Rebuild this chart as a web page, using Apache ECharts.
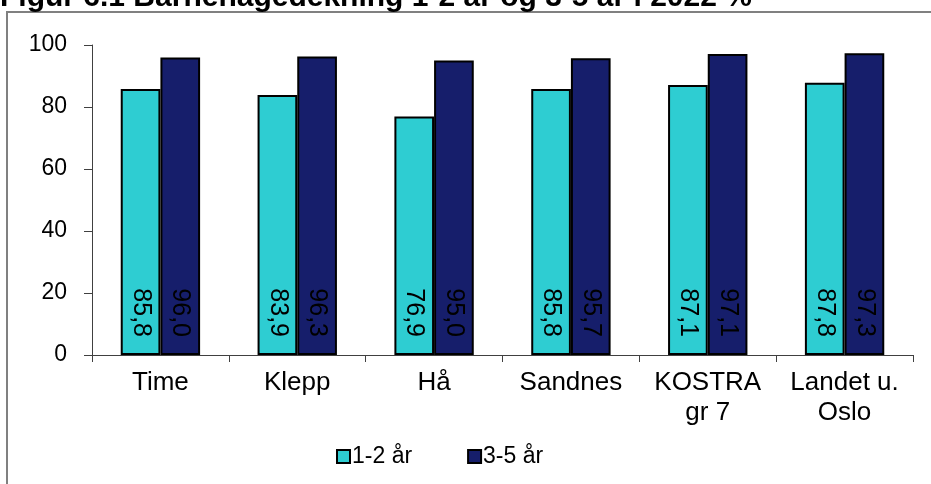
<!DOCTYPE html>
<html>
<head>
<meta charset="utf-8">
<script src="https://cdn.jsdelivr.net/npm/echarts@6/dist/echarts.min.js"></script>
<style>
  html, body { margin: 0; padding: 0; background: #fff; }
  #main { width: 931px; height: 484px; }
</style>
</head>
<body>
<div id="main"></div>
<script>
// kategorier og verdier
var categories = ['Time', 'Klepp', 'Hå', 'Sandnes', 'KOSTRA\ngr 7', 'Landet u.\nOslo'];
var seriesNames = ['1-2 år', '3-5 år'];
var values12 = [85.8, 83.9, 76.9, 85.8, 87.1, 87.8];
var values35 = [96.0, 96.3, 95.0, 95.7, 97.1, 97.3];
var yTicks = [0, 20, 40, 60, 80, 100];

var font = 'Liberation Sans, Arial, sans-serif';

var myChart = echarts.init(document.getElementById('main'));

// etikett med komma som desimaltegn
function commaLabel(p) {
    return p.value.toFixed(1).replace('.', ',');
}

var labelStyle = {
    show: true,
    position: 'insideBottom',
    distance: 18,
    rotate: -90,
    align: 'right',
    verticalAlign: 'middle',
    color: '#000',
    fontFamily: font,
    fontSize: 25,
    formatter: commaLabel
};

var option = {
    animation: false,
    backgroundColor: '#fff',
    graphic: [
        {
            type: 'rect',
            shape: { x: 7, y: 12, width: 1000, height: 600 },
            style: { fill: 'none', stroke: '#808080', lineWidth: 2 },
            silent: true
        },
        {
            type: 'text',
            x: 0,
            y: -2,
            style: {
                text: 'Figur 6.1 Barnehagedekning 1-2 år og 3-5 år i 2022 %',
                font: 'bold 30px ' + font,
                fill: '#000',
                verticalAlign: 'middle'
            }
        }
    ],
    legend: {
        data: seriesNames,
        left: 331,
        top: 440,
        itemWidth: 13,
        itemHeight: 13,
        itemGap: 55,
        textStyle: { fontFamily: font, fontSize: 23, color: '#000', padding: [0, 0, 0, -3] },
        icon: 'rect'
    },
    grid: { left: 92, right: 18, top: 45, bottom: 129 },
    xAxis: {
        type: 'category',
        data: categories,
        axisLine: { lineStyle: { color: '#404040', width: 1 } },
        axisTick: { show: true, length: 7, lineStyle: { color: '#404040' } },
        axisLabel: {
            color: '#000',
            fontFamily: font,
            fontSize: 26,
            lineHeight: 30,
            margin: 13,
            interval: 0
        }
    },
    yAxis: {
        type: 'value',
        min: yTicks[0],
        max: yTicks[yTicks.length - 1],
        interval: 20,
        splitLine: { show: false },
        axisLine: { show: true, lineStyle: { color: '#404040', width: 1 } },
        axisTick: { show: true, length: 8, lineStyle: { color: '#404040' } },
        axisLabel: {
            color: '#000',
            fontFamily: font,
            fontSize: 23,
            margin: 25
        }
    },
    series: [
        {
            name: seriesNames[0],
            type: 'bar',
            data: values12,
            barWidth: '29%',
            barGap: '0%',
            itemStyle: { color: '#2ECDD2', borderColor: '#000', borderWidth: 2 },
            label: labelStyle
        },
        {
            name: seriesNames[1],
            type: 'bar',
            data: values35,
            barWidth: '29%',
            itemStyle: { color: '#161E6B', borderColor: '#000', borderWidth: 2 },
            label: labelStyle
        }
    ]
};

myChart.setOption(option);
</script>
</body>
</html>
